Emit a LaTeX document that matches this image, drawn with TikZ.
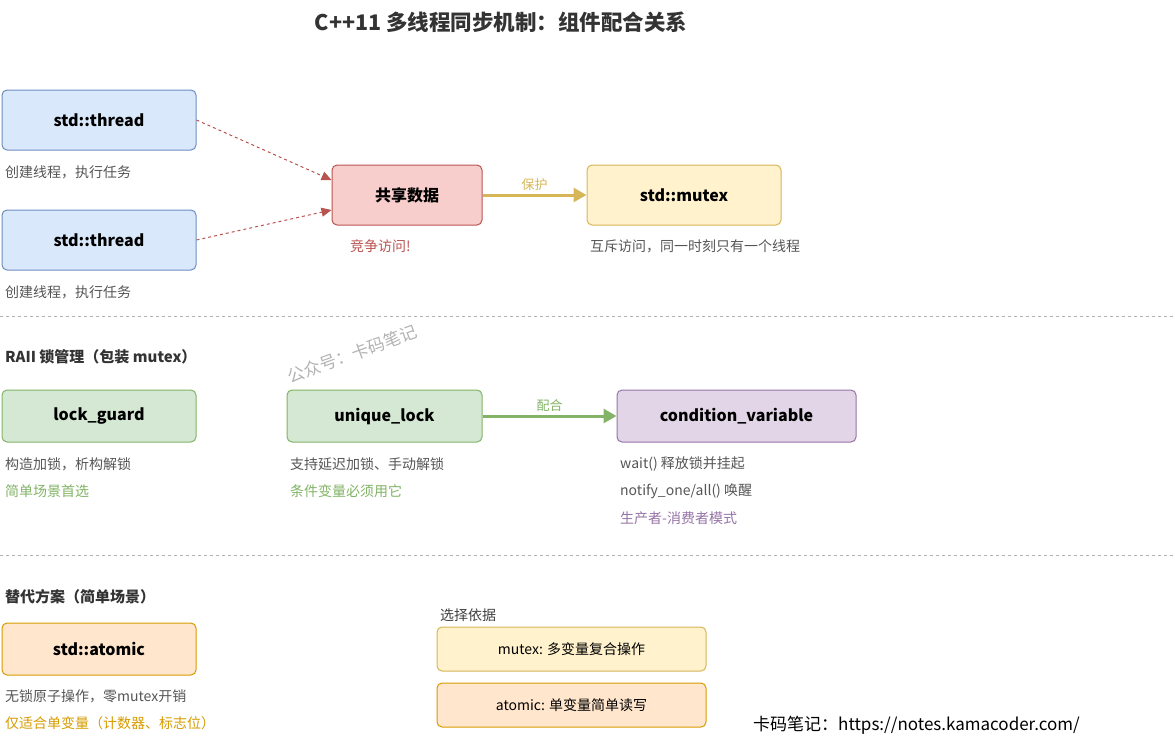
\documentclass[tikz,border=0pt]{standalone}
\usepackage{fontspec}
\setmainfont{Noto Sans CJK SC}
\usetikzlibrary{arrows.meta, positioning}
\definecolor{bluef}{HTML}{DAE8FC}\definecolor{blued}{HTML}{6C8EBF}
\definecolor{redf}{HTML}{F8CECC}\definecolor{redd}{HTML}{B85450}
\definecolor{yelf}{HTML}{FFF2CC}\definecolor{yeld}{HTML}{D6B656}
\definecolor{grnf}{HTML}{D5E8D4}\definecolor{grnd}{HTML}{82B366}
\definecolor{purf}{HTML}{E1D5E7}\definecolor{purd}{HTML}{9673A6}
\definecolor{orgf}{HTML}{FFE6CC}\definecolor{orgd}{HTML}{D79B00}
\definecolor{txtgray}{HTML}{555555}
\tikzset{
  box/.style={draw, rounded corners=5pt, line width=1pt, font=\fontsize{16}{18}\selectfont\bfseries, inner sep=0pt},
  note/.style={anchor=west, font=\fontsize{14}{16}\selectfont, text=txtgray, inner sep=0pt},
  head/.style={anchor=west, font=\fontsize{15}{17}\selectfont\bfseries, text=black!80, inner sep=0pt},
  sep/.style={gray!60, dashed, line width=0.8pt}
}
\begin{document}
\begin{tikzpicture}[x=1pt, y=-1pt]
\useasboundingbox (0,0) rectangle (1175,737);
% title
\node (title) [font=\fontsize{21.5}{24}\selectfont\bfseries, text=black!80] at (501,22) {C++11 多线程同步机制：组件配合关系};

% threads and shared data
\node (t1) [box, fill=bluef, draw=blued, minimum width=194pt, minimum height=60pt] at (99,120) {std::thread};
\node (t1n) [note] at (5,172) {创建线程，执行任务};
\node (t2) [box, fill=bluef, draw=blued, minimum width=194pt, minimum height=60pt] at (99,240) {std::thread};
\node (t2n) [note] at (5,292) {创建线程，执行任务};
\node (data) [box, fill=redf, draw=redd, minimum width=150pt, minimum height=60pt] at (407,195) {共享数据};
\node (datan) [note, text=redd] at (350,246) {竞争访问!};
\node (mtx) [box, fill=yelf, draw=yeld, minimum width=194pt, minimum height=60pt] at (684,195) {std::mutex};
\node (mtxn) [note] at (590,246) {互斥访问，同一时刻只有一个线程};

\draw [redd, dashed, line width=1pt, -{Triangle[length=10pt,width=9pt]}] (t1.east) -- ([yshift=15pt]data.west);
\draw [redd, dashed, line width=1pt, -{Triangle[length=10pt,width=9pt]}] (t2.east) -- ([yshift=-15pt]data.west);
\draw [yeld, line width=3pt, -{Triangle[length=13pt,width=14pt]}] (data) -- node [above, text=yeld, font=\fontsize{13}{15}\selectfont] {保护} (mtx);

\draw [sep] (0,316) -- (1175,316);

% RAII locks
\node (raii) [head] at (5,357) {RAII 锁管理（包装 mutex）};
\node (wm) [rotate=20, text=gray!60, font=\fontsize{17}{19}\selectfont] at (352,354) {公众号：卡码笔记};
\node (lg) [box, fill=grnf, draw=grnd, minimum width=194pt, minimum height=52pt] at (99,416) {lock\_guard};
\node (lgn1) [note] at (5,464) {构造加锁，析构解锁};
\node (lgn2) [note, text=grnd] at (5,491) {简单场景首选};
\node (ul) [box, fill=grnf, draw=grnd, minimum width=195pt, minimum height=52pt] at (384.5,416) {unique\_lock};
\node (uln1) [note] at (290,464) {支持延迟加锁、手动解锁};
\node (uln2) [note, text=grnd] at (290,491) {条件变量必须用它};
\node (cv) [box, fill=purf, draw=purd, minimum width=239pt, minimum height=52pt] at (736.5,416) {condition\_variable};
\node (cvn1) [note] at (620,464) {wait() 释放锁并挂起};
\node (cvn2) [note] at (620,491) {notify\_one/all() 唤醒};
\node (cvn3) [note, text=purd] at (620,518) {生产者-消费者模式};
\draw [grnd, line width=3pt, -{Triangle[length=13pt,width=14pt]}] (ul) -- node [above, text=grnd, font=\fontsize{13}{15}\selectfont] {配合} (cv);

\draw [sep] (0,555) -- (1175,555);

% alternatives
\node (alt) [head] at (5,597) {替代方案（简单场景）};
\node (at) [box, fill=orgf, draw=orgd, minimum width=194pt, minimum height=52pt] at (99,649) {std::atomic};
\node (atn1) [note] at (5,696) {无锁原子操作，零mutex开销};
\node (atn2) [note, text=orgd] at (5,723) {仅适合单变量（计数器、标志位）};
\node (sel) [note, text=black!75] at (440,615) {选择依据};
\node (selm) [box, fill=yelf, draw=yeld, minimum width=269pt, minimum height=44pt, font=\fontsize{14}{16}\selectfont] at (571.5,649) {mutex: 多变量复合操作};
\node (sela) [box, fill=orgf, draw=orgd, minimum width=269pt, minimum height=44pt, font=\fontsize{14}{16}\selectfont] at (571.5,705) {atomic: 单变量简单读写};

\node (foot) [anchor=west, inner sep=0pt, font=\fontsize{17}{19}\selectfont] at (753,725) {卡码笔记：https://notes.kamacoder.com/};
\end{tikzpicture}
\end{document}
